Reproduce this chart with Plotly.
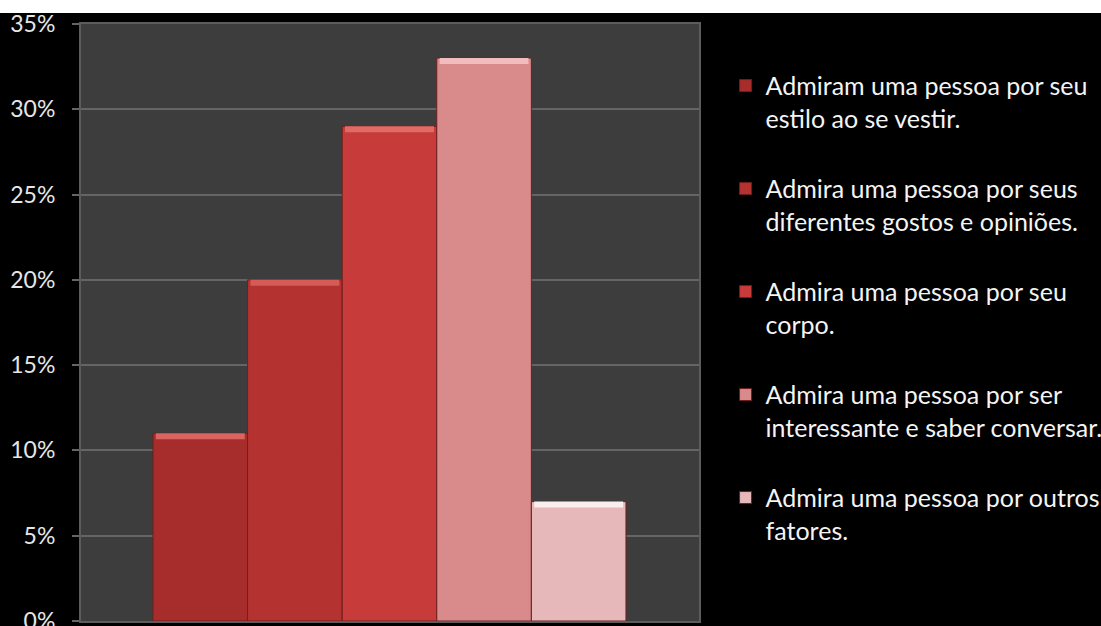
import plotly.graph_objects as go

# Survey answers and their shares (%)
categories = [
    "Admiram uma pessoa por seu<br>estilo ao se vestir.",
    "Admira uma pessoa por seus<br>diferentes gostos e opiniões.",
    "Admira uma pessoa por seu<br>corpo.",
    "Admira uma pessoa por ser<br>interessante e saber conversar.",
    "Admira uma pessoa por outros<br>fatores.",
]
values = [11, 20, 29, 33, 7]
bar_colors = ["#a62d2c", "#b43330", "#c73c3a", "#d98b8b", "#e6b8ba"]
cap_colors = ["#dc6360", "#d65a56", "#e06a66", "#f0bcbc", "#fbeeee"]
y_ticks = [0, 5, 10, 15, 20, 25, 30, 35]
y_tick_labels = ["0%", "5%", "10%", "15%", "20%", "25%", "30%", "35%"]

CAP = 0.35  # height of the lighter bevel on top of each bar

fig = go.Figure()
for i, (name, v, c) in enumerate(zip(categories, values, bar_colors)):
    fig.add_trace(go.Bar(
        x=[i], y=[v], width=1, name=name, legendgroup=f"g{i}",
        marker=dict(color=c, line=dict(color="#6e1e1e", width=1)),
        hoverinfo="y",
    ))
for i, (v, c) in enumerate(zip(values, cap_colors)):
    fig.add_trace(go.Bar(
        x=[i], y=[CAP], base=[v - CAP], width=0.94, showlegend=False,
        marker=dict(color=c, line=dict(width=0)), hoverinfo="skip",
    ))

fig.update_layout(
    width=1101, height=626,
    barmode="overlay",
    paper_bgcolor="#000000",
    plot_bgcolor="#3d3d3d",
    margin=dict(l=81, r=402, t=24, b=5, autoexpand=False),
    font=dict(family="Lato", color="#ffffff"),
    xaxis=dict(
        range=[-1.261, 5.272], showticklabels=False, showgrid=False,
        zeroline=False, showline=True, linecolor="#5c5c5c", linewidth=2,
        mirror=True, ticks="", automargin=False,
    ),
    yaxis=dict(
        range=[0, 35], tickvals=y_ticks, ticktext=y_tick_labels,
        showgrid=True, gridcolor="#656565", gridwidth=2, zeroline=False,
        showline=True, linecolor="#5c5c5c", linewidth=2, mirror=True,
        ticks="outside", ticklen=7, tickcolor="#656565", tickwidth=2,
        ticklabelstandoff=12, ticklabeloverflow="allow", automargin=False,
        tickfont=dict(family="Lato", size=23, color="#e6e6e6"),
    ),
    legend=dict(
        x=1.043, xanchor="left", y=0.935, yanchor="top", valign="top",
        bgcolor="rgba(0,0,0,0)", traceorder="grouped", tracegroupgap=35,
        font=dict(family="Lato", size=25, color="#f4f4f4"),
        itemwidth=30,
    ),
    showlegend=True,
    shapes=[dict(
        type="rect", xref="paper", yref="paper",
        x0=-0.2, x1=1.7, y0=1.0184, y1=1.05,
        fillcolor="#ffffff", line=dict(width=0), layer="above",
    )],
)

fig.write_html("out.html")
